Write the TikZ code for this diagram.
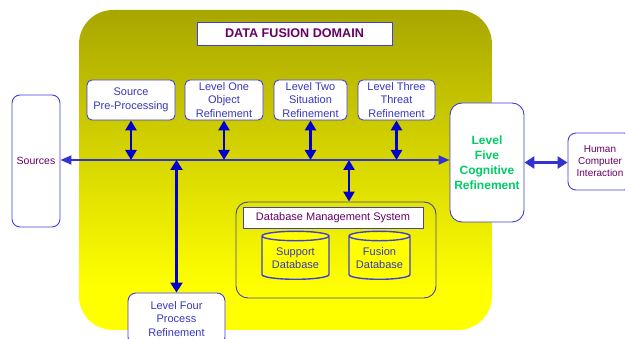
\documentclass[tikz,border=0pt]{standalone}
\usepackage{fontspec}
\setmainfont{Liberation Sans}
\usetikzlibrary{arrows.meta,shapes.geometric}
\definecolor{boxblue}{RGB}{64,64,220}
\definecolor{dbline}{RGB}{70,70,170}
\definecolor{txtblue}{RGB}{55,55,190}
\definecolor{arrblue}{RGB}{0,0,205}
\definecolor{busblue}{RGB}{50,50,210}
\definecolor{purp}{RGB}{102,0,102}
\definecolor{lgreen}{RGB}{0,204,102}
\definecolor{olivetop}{RGB}{168,166,0}
\definecolor{yel}{RGB}{255,255,0}
\pgfdeclareverticalshading{dfdshade}{100bp}{color(0bp)=(yel); color(32bp)=(yel); color(75bp)=(olivetop); color(100bp)=(olivetop)}
\tikzset{
  box/.style={draw=boxblue, fill=white, rounded corners=5pt, line width=0.9pt, text=txtblue,
    font=\fontsize{11}{13.5}\selectfont, align=center, inner sep=0pt},
  titlebox/.style={draw=boxblue, fill=white, line width=0.9pt, inner sep=0pt},
  dbcyl/.style={draw=boxblue, fill=yel, line width=1.4pt, shape=cylinder, shape border rotate=90,
    aspect=0.2, text=txtblue, font=\fontsize{11}{13}\selectfont, align=center, inner sep=0pt},
  dbl/.style={{Triangle[length=10pt,width=11pt]}-{Triangle[length=10pt,width=11pt]}, line width=2.8pt, draw=arrblue},
  busline/.style={{Triangle[length=11pt,width=9pt]}-{Triangle[length=11pt,width=9pt]}, line width=1.8pt, draw=busblue},
  thinarrow/.style={{Triangle[length=10pt,width=12pt]}-{Triangle[length=10pt,width=12pt]}, line width=2.3pt, draw=arrblue},
  hciarrow/.style={{Triangle[length=10pt,width=12pt]}-{Triangle[length=10pt,width=12pt]}, line width=3.8pt, draw=busblue},
}
\begin{document}
\begin{tikzpicture}[x=1pt,y=-1pt]
\useasboundingbox (0,0) rectangle (625,339);
% domain background
\path[shading=dfdshade, rounded corners=34pt] (79,10) rectangle (492,330);
% title
\node[titlebox, minimum width=195pt, minimum height=23pt, text=purp, font=\fontsize{12.6}{14}\selectfont\bfseries] (title) at (294.5,33.5) {DATA FUSION DOMAIN};
% level boxes
\node[box, minimum width=88pt, minimum height=40pt] (spp) at (131,100) {Source\\Pre-Processing};
\node[box, minimum width=78pt, minimum height=40pt] (l1) at (224,100) {Level One\\Object\\Refinement};
\node[box, minimum width=73pt, minimum height=40pt] (l2) at (310.5,100) {Level Two\\Situation\\Refinement};
\node[box, minimum width=77pt, minimum height=40pt] (l3) at (396.5,100) {Level Three\\Threat\\Refinement};
\node[box, minimum width=74pt, minimum height=119pt, rounded corners=12pt, text=lgreen,
  font=\fontsize{12}{15}\selectfont\bfseries] (l5) at (487,162.5) {Level\\Five\\Cognitive\\Refinement};
\node[box, minimum width=64pt, minimum height=57pt, rounded corners=8pt, text=purp,
  font=\fontsize{10}{12}\selectfont] (hci) at (600,161.5) {Human\\Computer\\Interaction};
\node[box, minimum width=48pt, minimum height=132pt, rounded corners=8pt, text=purp,
  font=\fontsize{10.5}{12}\selectfont] (src) at (36,161) {Sources};
\node[box, minimum width=97pt, minimum height=52pt, rounded corners=8pt] (l4) at (176.5,319) {Level Four\\Process\\Refinement};
% DBMS
\node[draw=dbline, line width=0.9pt, rounded corners=12pt, minimum width=200pt, minimum height=96pt] (dbms) at (336,250) {};
\node[titlebox, draw=dbline, minimum width=180pt, minimum height=21pt, text=purp, font=\fontsize{11}{13}\selectfont] (dbt) at (333,217.5) {Database Management System};
\node[dbcyl, minimum width=67pt, minimum height=48pt] (sdb) at (295.5,258) {Support\\Database};
\node[dbcyl, minimum width=61pt, minimum height=48pt] (fdb) at (379.5,258) {Fusion\\Database};
% connectors
\coordinate (busy) at (0,160);
\coordinate (dbx) at (349,0);
\draw[busline] (src.east |- busy) -- (l5.west |- busy);
\draw[dbl] (spp.south) -- (spp.south |- busy);
\draw[dbl] (l1.south) -- (l1.south |- busy);
\draw[dbl] (l2.south) -- (l2.south |- busy);
\draw[dbl] (l3.south) -- (l3.south |- busy);
\draw[dbl] (dbx |- busy) -- (dbx |- dbms.north);
\draw[thinarrow] (l4.north |- busy) -- (l4.north);
\draw[hciarrow] (l5.east) -- (l5.east -| hci.west);
\end{tikzpicture}
\end{document}
